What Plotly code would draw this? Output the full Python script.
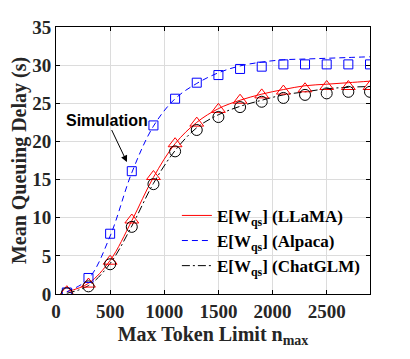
import plotly.graph_objects as go

# simulation points (markers)
sim_x = [100, 300, 500, 700, 900, 1100, 1300, 1500, 1700, 1900, 2100, 2300, 2500, 2700, 2900]
sim_alpaca = [0.2, 2.1, 7.9, 16.1, 22.1, 25.6, 27.7, 28.7, 29.5, 29.8, 30.1, 30.1, 30.1, 30.1, 30.1]
sim_llama = [0.3, 1.3, 4.3, 9.7, 15.4, 19.7, 22.4, 24.2, 25.4, 26.1, 26.6, 26.9, 27.2, 27.2, 27.2]
sim_chatglm = [0.1, 1.0, 3.9, 8.8, 14.4, 18.7, 21.5, 23.2, 24.5, 25.2, 25.7, 26.1, 26.3, 26.5, 26.5]

# analytical curves
ana_x = [100, 300, 500, 700, 900, 1100, 1300, 1500, 1700, 1900, 2100, 2300, 2500, 2700, 2900]
ana_llama = [0.3, 1.4, 4.4, 9.6, 15.3, 19.7, 22.5, 24.3, 25.4, 26.2, 26.8, 27.3, 27.5, 27.7, 27.9]
ana_alpaca = [0.3, 2.0, 7.6, 15.9, 22.0, 25.6, 27.6, 29.0, 29.9, 30.4, 30.7, 30.8, 30.9, 31.0, 31.1]
ana_chatglm = [0.1, 1.1, 4.0, 8.9, 14.5, 18.8, 21.8, 23.5, 24.6, 25.4, 26.1, 26.5, 26.9, 27.1, 27.2]

x_ticks = [0, 500, 1000, 1500, 2000, 2500]
y_ticks = [0, 5, 10, 15, 20, 25, 30, 35]

serif = "Liberation Serif"

fig = go.Figure()

curves = [
    (ana_llama, "red", "solid", "E[W<sub>qs</sub>] (LLaMA)"),
    (ana_alpaca, "blue", "6px,4px", "E[W<sub>qs</sub>] (Alpaca)"),
    (ana_chatglm, "black", "8px,3px,2px,3px", "E[W<sub>qs</sub>] (ChatGLM)"),
]
for ys, color, dash, name in curves:
    fig.add_trace(go.Scatter(
        x=ana_x, y=ys, mode="lines", name=name,
        line=dict(color=color, width=1, dash=dash, shape="spline"),
    ))

sims = [
    (sim_alpaca, "blue", "square-open", 9),
    (sim_llama, "red", "triangle-up-open", 12),
    (sim_chatglm, "black", "circle-open", 11),
]
for ys, color, symbol, size in sims:
    fig.add_trace(go.Scatter(
        x=sim_x, y=ys, mode="markers", showlegend=False,
        marker=dict(color=color, symbol=symbol, size=size, line=dict(width=1, color=color)),
    ))

fig.add_annotation(
    x=655, y=17.3, ax=-20, ay=-42, text="<b>Simulation</b>",
    showarrow=True, arrowhead=2, arrowsize=1.3, arrowwidth=1, arrowcolor="black",
    font=dict(family="Liberation Sans", size=16, color="black"),
)

axis_common = dict(
    showline=True, linecolor="black", linewidth=1, mirror="allticks",
    ticks="inside", ticklen=4, tickcolor="black", automargin=False,
    showgrid=True, gridcolor="#dcdcdc", gridwidth=1, zeroline=False,
    tickfont=dict(family=serif, size=19, color="#262626", weight="bold"),
)

fig.update_xaxes(
    range=[0, 2900], tickvals=x_ticks,
    title=dict(text="Max Token Limit n<sub>max</sub>", standoff=6,
               font=dict(family=serif, size=20, color="#262626", weight="bold")),
    **axis_common,
)
fig.update_yaxes(
    range=[0, 35], tickvals=y_ticks,
    title=dict(text="Mean Queuing Delay (s)", standoff=9,
               font=dict(family=serif, size=20, color="#262626", weight="bold")),
    **axis_common,
)

# the page body adds an 8px offset, margins compensate for it
fig.update_layout(
    width=410, height=359,
    margin=dict(l=48, r=48, t=19, b=73),
    plot_bgcolor="white", paper_bgcolor="white",
    legend=dict(x=0.385, y=0.36, xanchor="left", yanchor="top",
                bgcolor="rgba(0,0,0,0)", tracegroupgap=0,
                font=dict(family=serif, size=17, color="black", weight="bold")),
)

fig.write_html("out.html")
